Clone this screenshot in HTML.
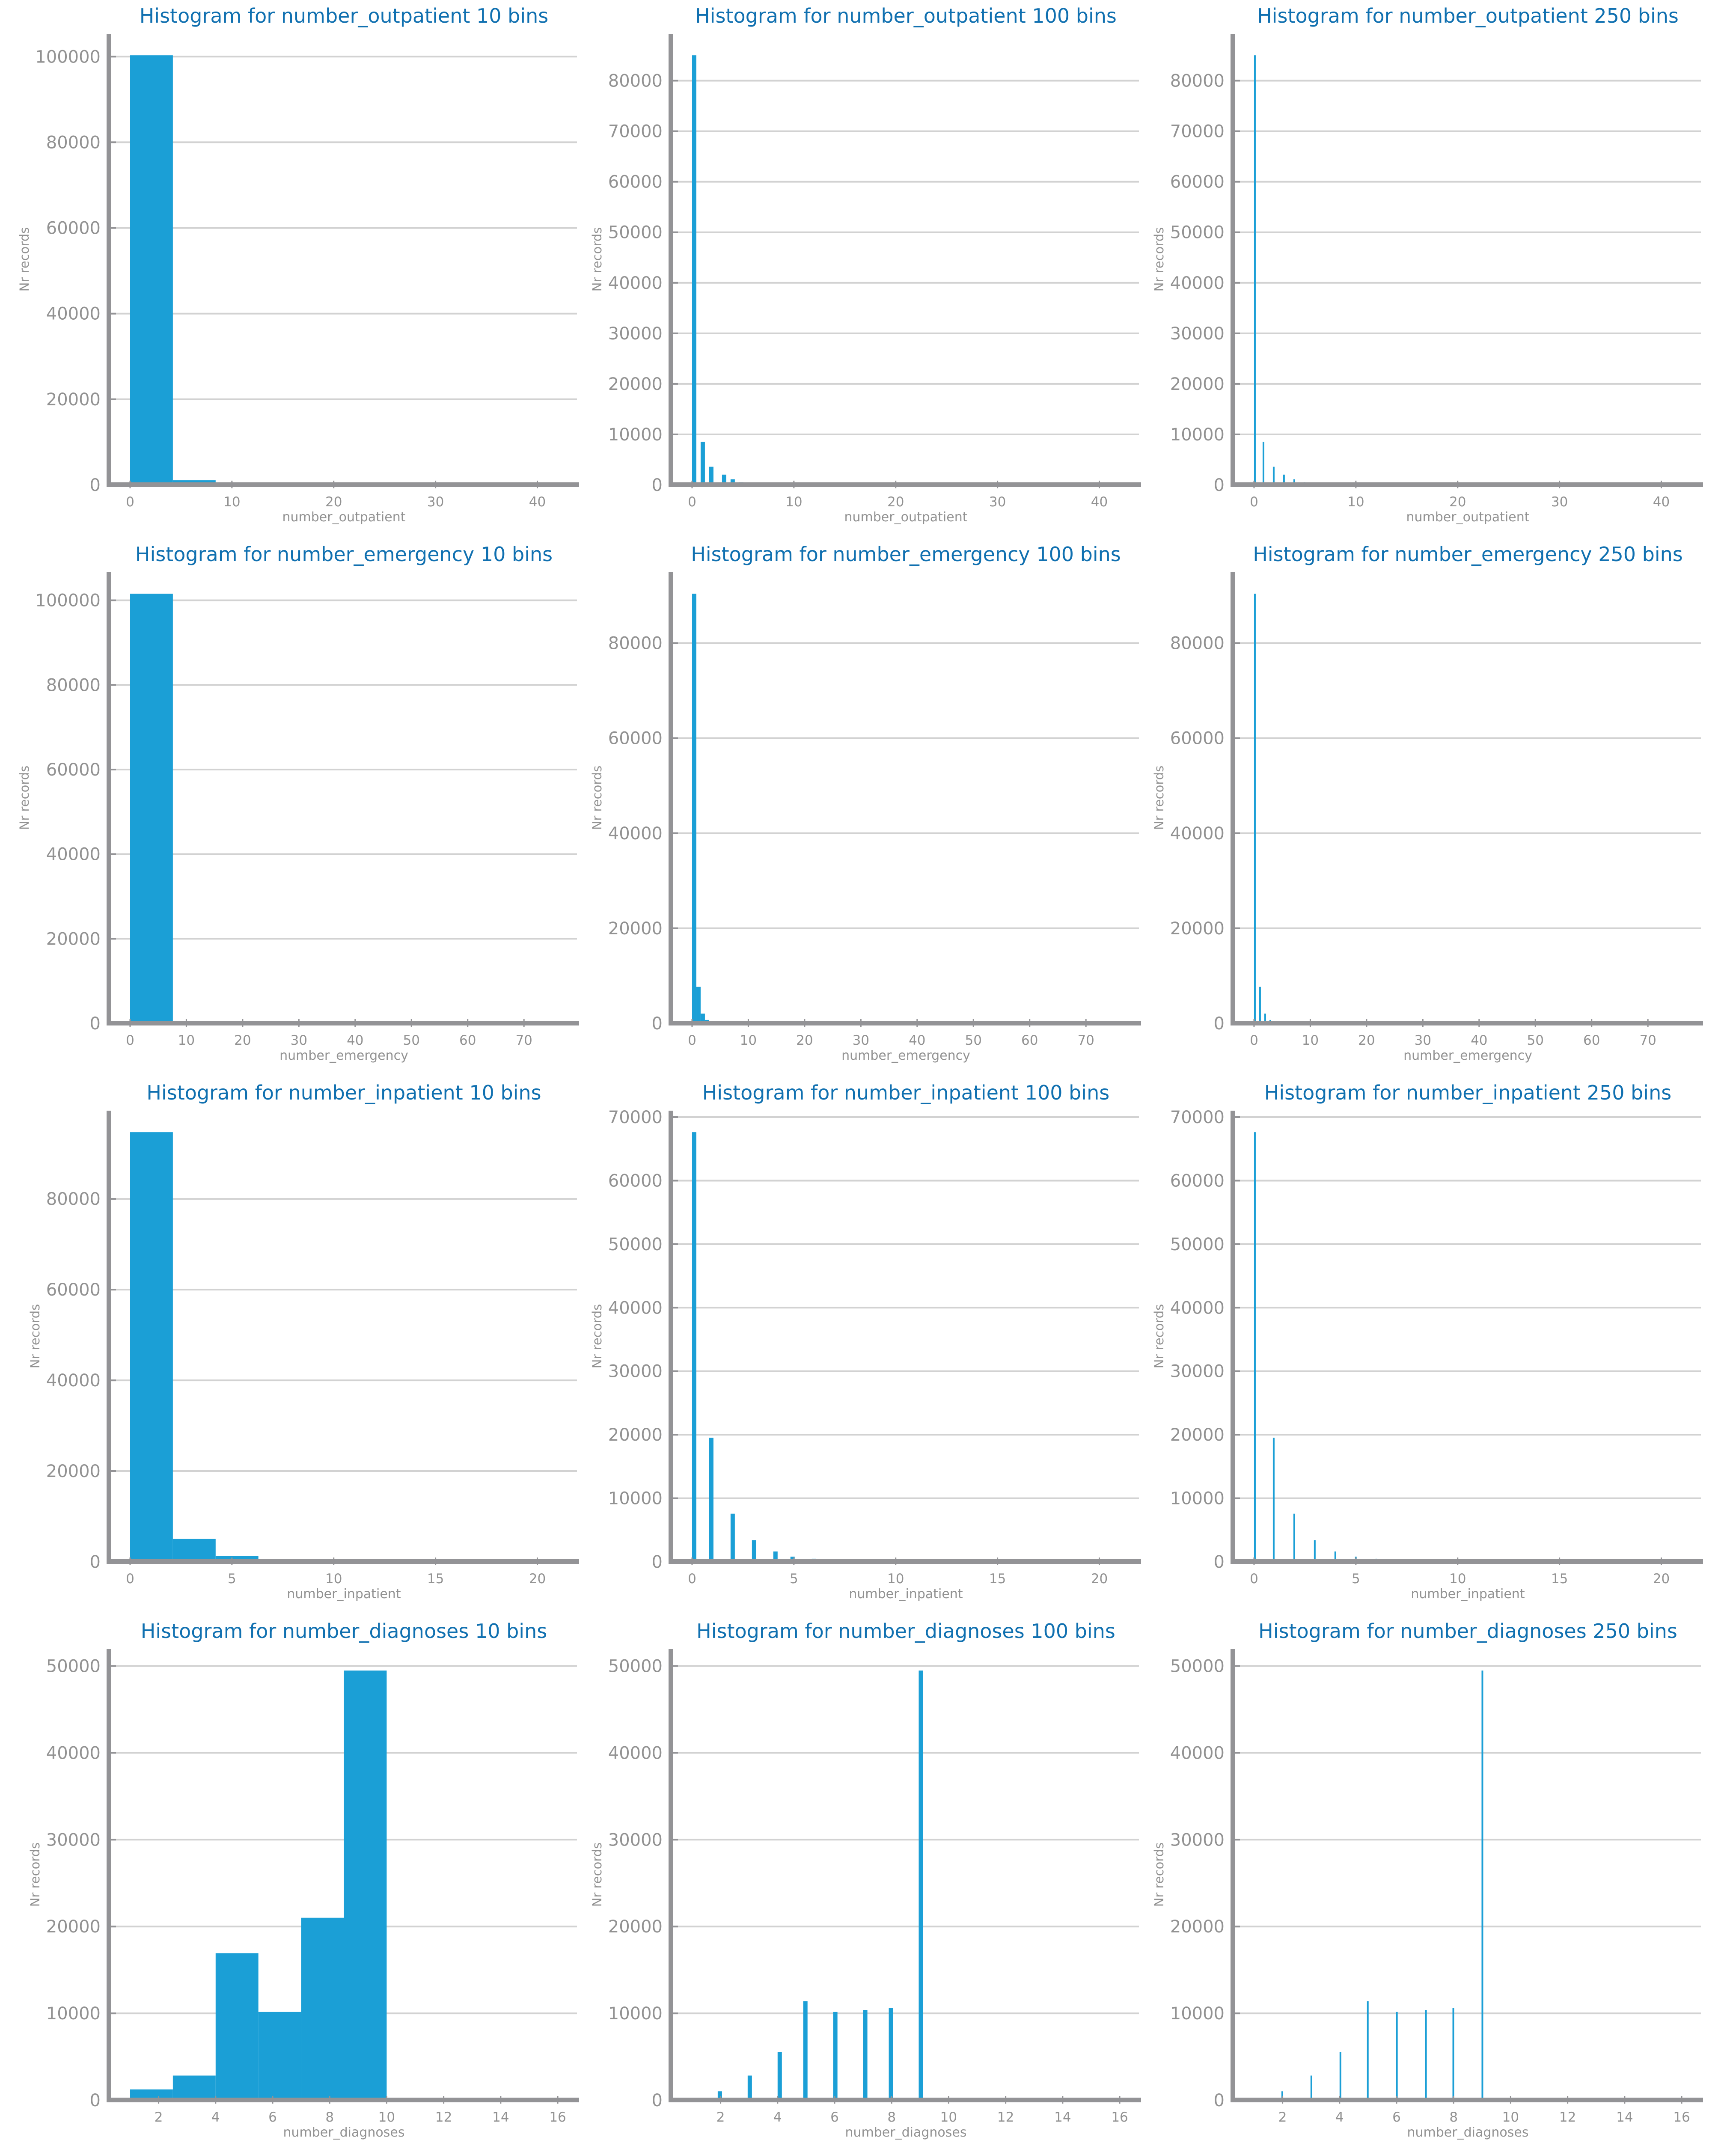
<!DOCTYPE html>
<html><head><meta charset="utf-8"><style>
html,body{margin:0;padding:0;background:#fff;width:4056px;height:5182px;overflow:hidden}
svg{display:block;position:absolute;left:0;top:0}
text{font-family:"DejaVu Sans","Liberation Sans",sans-serif}
</style></head><body><svg id="fig" xmlns="http://www.w3.org/2000/svg" width="4056" height="5182" viewBox="0 0 4056 5182"></svg><script>
// ---- data: value -> record count for each variable ----
const outpatientValues = [0,1,2,3,4,5,6,7,8,9,10,11,12,13,14,15,16,17,18,19,20,21,22,23,24,25,26,27,28,29,33,34,35,36,37,38,39,40,42];
const outpatientCounts = [85027,8547,3594,2042,1099,533,303,155,98,83,57,42,30,31,28,20,15,8,5,3,7,7,5,2,3,2,2,3,1,2,2,1,2,2,1,1,1,1,1];
const emergencyValues = [0,1,2,3,4,5,6,7,8,9,10,11,12,13,14,15,16,18,19,20,21,22,24,25,28,29,37,42,46,54,63,64,76];
const emergencyCounts = [90383,7677,2042,725,374,192,94,73,50,33,34,23,10,12,3,3,5,5,4,4,2,6,1,2,1,1,1,1,1,1,1,1,1];
const inpatientValues = [0,1,2,3,4,5,6,7,8,9,10,11,12,13,14,15,16,17,18,19,21];
const inpatientCounts = [67630,19521,7566,3411,1622,812,480,268,151,111,61,49,34,20,10,9,6,1,1,2,1];
const diagnosesValues = [1,2,3,4,5,6,7,8,9,10,11,12,13,14,15,16];
const diagnosesCounts = [219,1023,2835,5537,11393,10161,10393,10616,49474,17,11,9,16,7,10,45];
const outpatientTicks = [0,10,20,30,40];
const emergencyTicks = [0,10,20,30,40,50,60,70];
const inpatientTicks = [0,5,10,15,20];
const diagnosesTicks = [2,4,6,8,10,12,14,16];
const binCounts = [10,100,250];
const variableNames = ["number_outpatient","number_emergency","number_inpatient","number_diagnoses"];

const NS="http://www.w3.org/2000/svg";
const svg=document.getElementById('fig');
function mk(tag,attrs,parent){const e=document.createElementNS(NS,tag);for(const k in attrs)e.setAttribute(k,attrs[k]);(parent||svg).appendChild(e);return e;}

const vars=[
 {vals:outpatientValues,cnts:outpatientCounts,ticks:outpatientTicks},
 {vals:emergencyValues,cnts:emergencyCounts,ticks:emergencyTicks},
 {vals:inpatientValues,cnts:inpatientCounts,ticks:inpatientTicks},
 {vals:diagnosesValues,cnts:diagnosesCounts,ticks:diagnosesTicks}
];
const colL=[254,1567,2880], rowT=[79,1337,2595,3853], W=1099, H=1054;

function histogram(vals,cnts,n){
  const mn=Math.min(...vals), mx=Math.max(...vals), w=(mx-mn)/n;
  const h=new Array(n).fill(0);
  vals.forEach((v,i)=>{let b=Math.floor((v-mn)/w+1e-9); if(b>=n)b=n-1; h[b]+=cnts[i];});
  return {mn,mx,w,h};
}
function niceStep(ymax){
  const steps=[1,2,2.5,5];
  for(let p=0;p<8;p++){for(const s of steps){const st=s*Math.pow(10,p);if(Math.floor(ymax/st)+1<=9)return st;}}
  return 1e8;
}

vars.forEach((V,r)=>{
  binCounts.forEach((nb,c)=>{
    const L=colL[c], T=rowT[r], R=L+W, B=T+H;
    const g=mk('g',{});
    
    
    const hst=histogram(V.vals,V.cnts,nb);
    const span=hst.mx-hst.mn, x0=hst.mn-0.05*span, x1=hst.mx+0.05*span;
    const ymax=Math.max(...hst.h)*1.05;
    const X=v=>L+(v-x0)/(x1-x0)*W;
    const Y=v=>B-v/ymax*H;
    const step=niceStep(ymax);
    for(let t=0;t<=ymax;t+=step){
      const y=Y(t);
      if(t>0){const gl=mk('line',{x1:L,x2:R-5,y1:y,y2:y,stroke:'#d2d2d2','stroke-width':4},g);
        
        }
      const tk=mk('line',{x1:L,x2:L+17,y1:y,y2:y,stroke:'#939396','stroke-width':4},g);
      
      
      const tl=mk('text',{x:L-19,y:y+14,'text-anchor':'end','font-size':40,fill:'#929292'},g);
      tl.textContent=String(t);
      
      
    }
    hst.h.forEach((v,i)=>{
      if(v<=0)return;
      const a=X(hst.mn+i*hst.w), b=X(hst.mn+(i+1)*hst.w);
      const bar=mk('rect',{x:a,y:Y(v),width:Math.max(b-a,1),height:B-Y(v),fill:'#1b9fd6'},g);
      
      
    });
    const ls=mk('rect',{x:L-5,y:T,width:11,height:H+5,fill:'#939396'},g);
    
    
    const bs=mk('rect',{x:L-5,y:B-6,width:W+5,height:11,fill:'#939396'},g);
    
    
    V.ticks.forEach(t=>{
      const x=X(t);
      const tk=mk('line',{x1:x,x2:x,y1:B-10,y2:B+8,stroke:'#939396','stroke-width':3},g);
      
      
      const tl=mk('text',{x:x,y:B+50,'text-anchor':'middle','font-size':31,fill:'#929292'},g);
      tl.textContent=String(t);
      
      
    });
    const xl=mk('text',{x:L+W/2,y:B+85,'text-anchor':'middle','font-size':30,fill:'#929292'},g);
    xl.textContent=variableNames[r];
    
    
    const lblX = (ymax>=100000)? L-187 : L-162;
    const yl=mk('text',{x:lblX,y:T+H/2,'text-anchor':'middle','font-size':29,fill:'#929292',transform:'rotate(-90 '+lblX+' '+(T+H/2)+')'},g);
    yl.textContent='Nr records';
    
    
    const tt=mk('text',{x:L+W/2,y:T-26,'text-anchor':'middle','font-size':46,fill:'#1070b0'},g);
    tt.textContent='Histogram for '+variableNames[r]+' '+nb+' bins';
    
    
  });
});
</script></body></html>
